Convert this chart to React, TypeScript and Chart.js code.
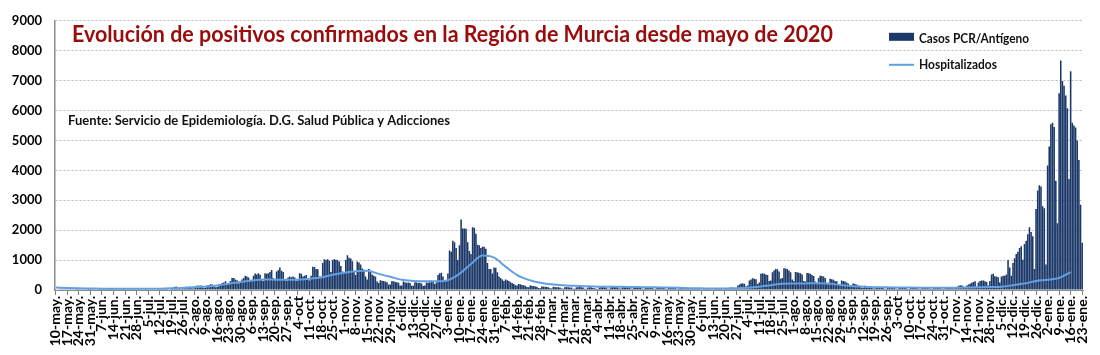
import React, { useEffect, useRef } from 'react';
import { Chart, registerables } from 'chart.js';

Chart.register(...registerables);

// Weekly tick labels (every Sunday), 10-may-2020 .. 23-ene-2022
const weekLabels: string[] = [
  '10-may.', '17-may.', '24-may.', '31-may.', '7-jun.', '14-jun.', '21-jun.', '28-jun.', '5-jul.', '12-jul.',
  '19-jul.', '26-jul.', '2-ago.', '9-ago.', '16-ago.', '23-ago.', '30-ago.', '6-sep.', '13-sep.', '20-sep.',
  '27-sep.', '4-oct', '11-oct.', '18-oct.', '25-oct.', '1-nov.', '8-nov.', '15-nov.', '22-nov.', '29-nov.',
  '6-dic.', '13-dic.', '20-dic.', '27-dic.', '3-ene.', '10-ene.', '17-ene.', '24-ene.', '31-ene.', '7-feb.',
  '14-feb.', '21-feb.', '28-feb.', '7-mar.', '14-mar.', '21-mar.', '28-mar.', '4-abr.', '11-abr.', '18-abr.',
  '25-abr.', '2-may.', '9-may.', '16-may.', '23-may.', '30-may.', '6-jun.', '13-jun.', '20-jun.', '27-jun.',
  '4-jul.', '11-jul.', '18-jul.', '25-jul.', '1-ago.', '8-ago.', '15-ago.', '22-ago.', '29-ago.', '5-sep.',
  '12-sep.', '19-sep.', '26-sep.', '3-oct', '10-oct.', '17-oct.', '24-oct.', '31-oct.', '7-nov.', '14-nov.',
  '21-nov.', '28-nov.', '5-dic.', '12-dic.', '19-dic.', '26-dic.', '2-ene.', '9-ene.', '16-ene.', '23-ene.',
];

// Daily cases, one row per week (Sunday..Saturday)
const casesSpring2020: number[][] = [
  [8, 14, 12, 10, 11, 9, 5], [6, 11, 9, 12, 8, 7, 4], [5, 9, 8, 10, 7, 6, 3], [4, 8, 6, 7, 9, 5, 3],
  [3, 6, 7, 5, 8, 4, 2], [4, 7, 5, 9, 6, 5, 3], [5, 8, 10, 7, 9, 6, 4], [6, 12, 9, 14, 10, 8, 5],
  [8, 15, 18, 12, 20, 14, 9], [10, 25, 32, 22, 38, 28, 15],
];
const casesAutumn2020: number[][] = [
  [30, 80, 100, 120, 90, 70, 40], [40, 90, 110, 100, 120, 100, 50], [60, 130, 150, 140, 150, 120, 70],
  [80, 150, 170, 190, 180, 160, 90], [100, 180, 200, 230, 250, 290, 200], [200, 300, 400, 400, 350, 330, 220],
  [250, 350, 400, 480, 450, 420, 280], [300, 480, 550, 520, 560, 510, 330], [300, 560, 540, 560, 600, 670, 400],
  [350, 620, 660, 750, 640, 600, 350], [300, 420, 450, 430, 450, 420, 300], [350, 560, 540, 450, 480, 500, 350],
  [320, 480, 780, 770, 700, 690, 450], [450, 900, 1030, 1000, 1030, 980, 600], [1000, 1030, 1010, 1000, 950, 800, 620],
  [600, 1000, 1160, 1080, 1050, 960, 600], [500, 950, 920, 850, 720, 680, 450], [350, 700, 600, 520, 480, 450, 280],
  [230, 330, 310, 300, 280, 260, 180], [180, 300, 290, 270, 260, 240, 150], [150, 280, 260, 240, 250, 230, 140],
  [140, 260, 250, 230, 240, 220, 130], [150, 250, 240, 260, 320, 300, 200], [250, 500, 560, 580, 450, 320, 280],
];
const casesWinter2021: number[][] = [
  [550, 1320, 1280, 1650, 1600, 1400, 1000], [1500, 2360, 2060, 2060, 2050, 1600, 1300],
  [1200, 2100, 2080, 1880, 1510, 1500, 1400], [1450, 1450, 1380, 900, 700, 700, 550],
  [750, 740, 590, 450, 400, 350, 300], [350, 330, 300, 260, 230, 200, 160],
  [150, 200, 190, 170, 160, 140, 100], [90, 150, 140, 130, 120, 110, 70],
];
const casesSpring2021: number[][] = [
  [60, 120, 115, 110, 100, 95, 55], [50, 105, 100, 95, 90, 85, 50], [45, 95, 100, 90, 85, 80, 45],
  [45, 90, 95, 100, 90, 80, 45], [40, 85, 95, 90, 70, 60, 40], [35, 80, 110, 100, 95, 85, 45],
  [45, 110, 120, 115, 105, 95, 50], [50, 120, 125, 110, 100, 90, 50], [45, 105, 110, 100, 95, 85, 45],
  [40, 95, 100, 95, 90, 80, 40], [40, 90, 95, 85, 80, 75, 40], [35, 80, 85, 80, 75, 65, 35],
  [30, 70, 75, 70, 65, 60, 30], [30, 65, 70, 65, 60, 55, 30], [25, 60, 65, 60, 55, 50, 25],
  [25, 55, 60, 58, 55, 50, 28], [30, 60, 70, 75, 80, 75, 40],
];
const casesSummer2021: number[][] = [
  [60, 150, 180, 215, 220, 210, 120], [150, 320, 350, 390, 380, 360, 200], [250, 540, 560, 540, 520, 500, 300],
  [320, 590, 650, 700, 690, 620, 380], [400, 730, 720, 700, 650, 590, 350], [300, 600, 590, 580, 560, 520, 300],
  [280, 570, 560, 540, 500, 470, 280], [200, 400, 480, 470, 450, 400, 220], [180, 375, 360, 340, 300, 290, 170],
  [150, 320, 300, 280, 250, 220, 130], [100, 220, 200, 180, 150, 140, 80], [70, 140, 130, 120, 110, 100, 60],
];
const casesAutumn2021: number[][] = [
  [50, 100, 95, 90, 85, 75, 45], [40, 80, 85, 80, 75, 70, 40], [35, 75, 80, 70, 70, 65, 35],
  [35, 70, 75, 70, 65, 60, 35], [30, 70, 75, 70, 65, 60, 30], [35, 75, 80, 75, 70, 65, 35],
  [35, 70, 85, 80, 75, 70, 40], [80, 100, 140, 160, 150, 120, 70], [150, 180, 210, 240, 270, 290, 120],
  [250, 300, 320, 320, 290, 270, 150], [300, 520, 540, 460, 450, 430, 250],
];
const casesWinter2022: number[][] = [
  [450, 480, 480, 520, 1000, 750, 480], [900, 1060, 1200, 1280, 1400, 1460, 1010],
  [1540, 1650, 1860, 2100, 1940, 1800, 700], [2710, 3330, 3500, 3460, 2800, 2730, 850],
  [4160, 4800, 5540, 5590, 5450, 3650, 2230], [6580, 7670, 6990, 6830, 6500, 6080, 3710],
  [7310, 5590, 5500, 5430, 5000, 4350, 2850], [1580],
];

// Hospitalised, one reading per week (on the Sunday of each tick)
const hospitalizados: (number | null)[] = [
  80, 65, 55, 50, 45, 42, 40, 40, 42, 45,
  55, 70, 90, 115, 150, 210, 270, 320, 350, 345,
  340, 345, 380, 420, 510, 580, 630, 640, 540, 440,
  340, 305, 290, 290, 330, 540, 870, 1150, 1080, 780,
  500, 340, 240, 190, 160, 140, 125, 112, 108, 105,
  100, 95, 88, 84, 75, 62, 55, 50, 50, 55,
  75, 110, 160, 205, 215, 220, 225, 215, 170, 130,
  108, 95, 90, 85, 80, 76, 75, 75, 78, 82,
  90, 100, 112, 160, 215, 300, 340, 400, 600, null,
];

const yTicks: number[] = [0, 1000, 2000, 3000, 4000, 5000, 6000, 7000, 8000, 9000];

const TITLE = 'Evolución de positivos confirmados en la Región de Murcia desde mayo de 2020';
const SOURCE = 'Fuente: Servicio de Epidemiología. D.G. Salud Pública y Adicciones';
const CASES_LABEL = 'Casos PCR/Antígeno';
const HOSP_LABEL = 'Hospitalizados';

const BAR_COLOR = '#1b3868';
const LINE_COLOR = '#62a0e2';

const casesDaily: number[] = [
  ...casesSpring2020, ...casesAutumn2020, ...casesWinter2021, ...casesSpring2021,
  ...casesSummer2021, ...casesAutumn2021, ...casesWinter2022,
].flat();
const dayLabels: string[] = casesDaily.map((_, i) => (i % 7 === 0 ? weekLabels[i / 7] : ''));
const hospDaily: (number | null)[] = casesDaily.map((_, i) => (i % 7 === 0 ? hospitalizados[i / 7] ?? null : null));

function drawFitted(ctx: CanvasRenderingContext2D, text: string, x: number, y: number, width: number,
  size: number, family: string, weight: string, color: string) {
  ctx.save();
  ctx.font = `${weight} ${size}px ${family}`;
  const w = ctx.measureText(text).width;
  ctx.translate(x, y);
  ctx.scale(width / w, 1);
  ctx.fillStyle = color;
  ctx.textAlign = 'left';
  ctx.textBaseline = 'alphabetic';
  ctx.fillText(text, 0, 0);
  ctx.restore();
}

const overlayPlugin = {
  id: 'overlayTexts',
  afterDraw(chart: any) {
    const ctx: CanvasRenderingContext2D = chart.ctx;
    const a = chart.chartArea;
    drawFitted(ctx, TITLE, a.left + 17, a.top + 21, 761, 22, 'Lato', 'bold', '#9a0c0c');
    drawFitted(ctx, SOURCE, a.left + 13, a.top + 104, 382, 13, 'Lato', 'bold', '#111');
    // legend
    const lx = a.left + 834;
    ctx.save();
    ctx.fillStyle = BAR_COLOR;
    ctx.fillRect(lx, a.top + 12, 25, 8);
    ctx.strokeStyle = LINE_COLOR;
    ctx.lineWidth = 2;
    ctx.beginPath();
    ctx.moveTo(lx, a.top + 44);
    ctx.lineTo(lx + 25, a.top + 44);
    ctx.stroke();
    ctx.restore();
    drawFitted(ctx, CASES_LABEL, lx + 30, a.top + 22, 110, 13, 'Lato', 'bold', '#111');
    drawFitted(ctx, HOSP_LABEL, lx + 30, a.top + 48, 78, 13, 'Lato', 'bold', '#111');
  },
};

export default function App() {
  const ref = useRef<HTMLCanvasElement>(null);
  useEffect(() => {
    document.body.style.margin = '0';
    document.body.style.overflow = 'hidden';
    const canvas = ref.current as HTMLCanvasElement;
    const chart = new Chart(canvas, {
      type: 'bar',
      data: {
        labels: dayLabels,
        datasets: [
          {
            type: 'line',
            label: HOSP_LABEL,
            data: hospDaily,
            borderColor: LINE_COLOR,
            borderWidth: 2,
            pointRadius: 0,
            spanGaps: true,
            cubicInterpolationMode: 'monotone',
            order: 0,
          } as any,
          {
            type: 'bar',
            label: CASES_LABEL,
            data: casesDaily,
            backgroundColor: BAR_COLOR,
            barPercentage: 0.95,
            categoryPercentage: 1,
            order: 1,
          } as any,
        ],
      },
      options: {
        responsive: false,
        animation: false,
        layout: { padding: { top: 11, right: 17, left: 0, bottom: 0 } },
        plugins: { legend: { display: false }, tooltip: { enabled: false }, title: { display: false } },
        scales: {
          x: {
            offset: true,
            grid: {
              display: true,
              drawOnChartArea: false,
              drawTicks: true,
              tickLength: 5,
              offset: false,
              tickColor: (c: any) => (c.index % 7 === 0 ? '#808080' : 'rgba(0,0,0,0)'),
            },
            border: { display: true, color: '#8c8c8c', width: 1 },
            ticks: {
              autoSkip: false,
              maxRotation: 90,
              minRotation: 90,
              padding: 1,
              color: '#000',
              font: { family: 'Lato', size: 14, weight: 'bold' },
              callback: (_v: any, i: number) => dayLabels[i],
            },
            afterFit: (s: any) => { s.height = 65; },
          },
          y: {
            min: 0,
            max: 9000,
            afterBuildTicks: (s: any) => { s.ticks = yTicks.map((v) => ({ value: v })); },
            ticks: {
              padding: 13,
              color: '#000',
              font: { family: 'Lato', size: 13, weight: 'bold' },
              callback: (v: any) => String(v),
            },
            grid: { color: '#b8b8b8', drawTicks: false, lineWidth: 1 },
            border: { display: true, color: '#8c8c8c', width: 1.5, dash: [2, 2] },
            afterFit: (s: any) => { s.width = 55; },
          },
        },
      } as any,
      plugins: [overlayPlugin],
    });
    return () => chart.destroy();
  }, []);
  return <canvas ref={ref} width={1100} height={355} style={{ display: 'block' }} />;
}
